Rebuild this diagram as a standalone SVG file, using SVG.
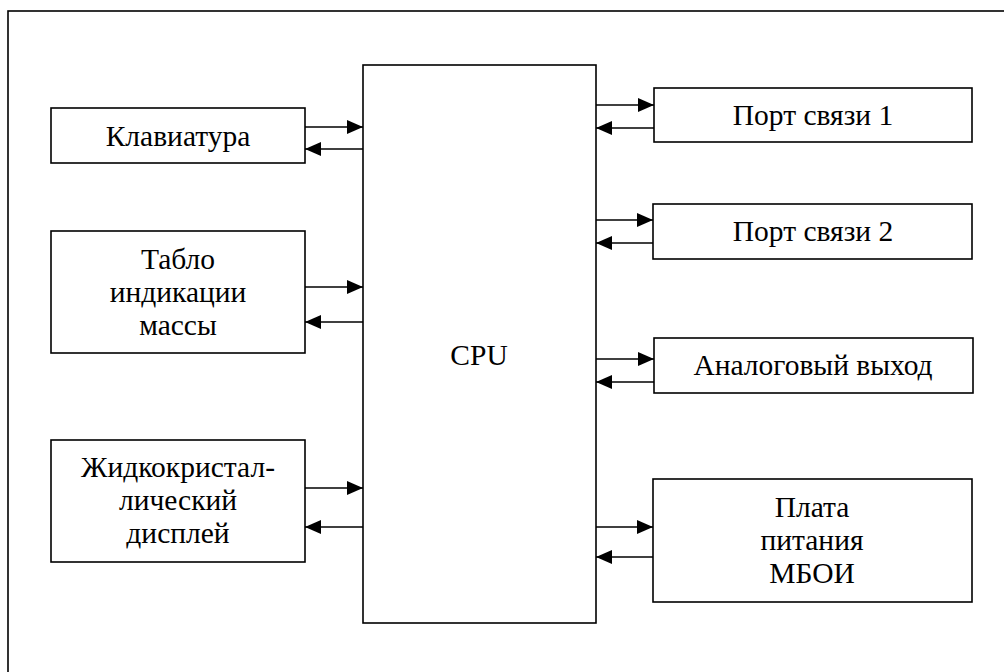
<svg xmlns="http://www.w3.org/2000/svg" width="1004" height="672" viewBox="0 0 1004 672">
<style>
.box{fill:#fff;stroke:#000;stroke-width:1.6}
.frame{fill:#fff;stroke:#000;stroke-width:1.6}
.ln{stroke:#000;stroke-width:1.6;fill:none;marker-end:url(#ah)}
.t{font-family:'Liberation Serif','Times New Roman',serif;font-size:29.5px;fill:#000;text-anchor:middle}
</style>
<defs>
<marker id="ah" markerUnits="userSpaceOnUse" markerWidth="18" markerHeight="14" refX="16" refY="7" orient="auto">
<path d="M0,0 L16,7 L0,14 Z" fill="#000"/>
</marker>
</defs>
<rect class="frame" x="8" y="11" width="1010" height="690"/>
<g class="t">
<g id="cpu"><rect class="box" x="363" y="65" width="233" height="558"/><text x="479" y="365">CPU</text></g>
<g id="keyboard"><rect class="box" x="51" y="108" width="254" height="55"/><text x="178" y="146">Клавиатура</text></g>
<g id="tablo"><rect class="box" x="51" y="231" width="254" height="122"/><text x="178" y="269">Табло</text><text x="178" y="302">индикации</text><text x="178" y="335">массы</text></g>
<g id="lcd"><rect class="box" x="51" y="440" width="254" height="122"/><text x="178" y="477">Жидкокристал-</text><text x="178" y="510">лический</text><text x="178" y="543">дисплей</text></g>
<g id="port1"><rect class="box" x="654" y="88" width="318" height="54"/><text x="813" y="125">Порт связи 1</text></g>
<g id="port2"><rect class="box" x="653" y="204" width="319" height="55"/><text x="813" y="241">Порт связи 2</text></g>
<g id="analog"><rect class="box" x="654" y="338" width="319" height="55"/><text x="813" y="375">Аналоговый выход</text></g>
<g id="power"><rect class="box" x="653" y="479" width="319" height="123"/><text x="812" y="517">Плата</text><text x="812" y="550">питания</text><text x="812" y="583">МБОИ</text></g>
</g>
<g id="connectors">
<path class="ln" d="M305,127 H363"/>
<path class="ln" d="M363,149 H305"/>
<path class="ln" d="M305,287 H363"/>
<path class="ln" d="M363,322 H305"/>
<path class="ln" d="M305,488 H363"/>
<path class="ln" d="M363,527 H305"/>
<path class="ln" d="M596,105 H654"/>
<path class="ln" d="M654,128 H596"/>
<path class="ln" d="M596,220 H653"/>
<path class="ln" d="M653,243 H596"/>
<path class="ln" d="M596,359 H654"/>
<path class="ln" d="M654,382 H596"/>
<path class="ln" d="M596,527 H653"/>
<path class="ln" d="M653,557 H596"/>
</g>
</svg>
